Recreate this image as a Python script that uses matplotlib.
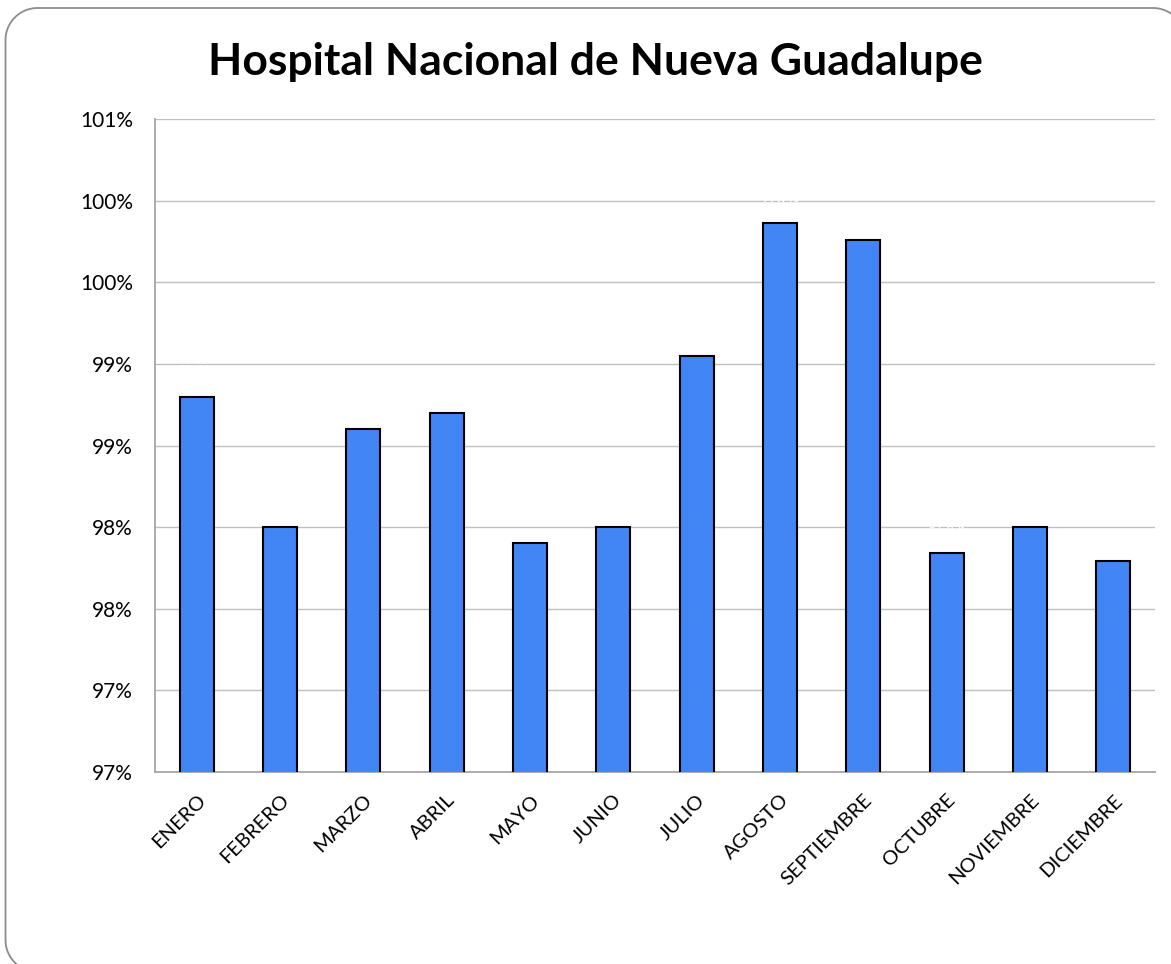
import numpy as np
import matplotlib.pyplot as plt
from matplotlib.path import Path
from matplotlib.patches import PathPatch
from matplotlib.ticker import FuncFormatter, MultipleLocator

meses = ['ENERO', 'FEBRERO', 'MARZO', 'ABRIL', 'MAYO', 'JUNIO', 'JULIO',
         'AGOSTO', 'SEPTIEMBRE', 'OCTUBRE', 'NOVIEMBRE', 'DICIEMBRE']
valores = [98.8, 98.0, 98.6, 98.7, 97.9, 98.0, 99.05, 99.86, 99.76, 97.84, 98.0, 97.79]

titulo = 'Hospital Nacional de Nueva Guadalupe'

plt.rcParams['font.family'] = ['Lato', 'DejaVu Sans']

W, H = 1171, 964
fig = plt.figure(figsize=(W/100, H/100), dpi=100)
fig.patch.set_facecolor('white')

# background axes in pixel units, only for the rounded frame
bg = fig.add_axes([0, 0, 1, 1], zorder=-1)
bg.set_xlim(0, W)
bg.set_ylim(H, 0)
bg.axis('off')

def rounded_rect(x0, y0, x1, y1, r, n=20):
    pts = []
    corners = [(x0 + r, y0 + r, 180, 270), (x1 - r, y0 + r, 270, 360),
               (x1 - r, y1 - r, 0, 90), (x0 + r, y1 - r, 90, 180)]
    for cx, cy, a0, a1 in corners:
        t = np.radians(np.linspace(a0, a1, n))
        pts += list(zip(cx + r*np.cos(t), cy + r*np.sin(t)))
    pts.append(pts[0])
    return Path(pts)

# frame runs off the right and bottom edges like the original
bg.add_patch(PathPatch(rounded_rect(5.5, 8, 1185, 972, 32), fill=False,
                       edgecolor='#8c8c8c', lw=1.3))

ax = fig.add_axes([155/W, 1 - 772/H, 1000/W, (772-119)/H])

x = np.arange(len(meses))
ax.bar(x, valores, width=0.41, color='#4285f4', edgecolor='black', lw=1.5, zorder=3)

for xi, v in zip(x, valores):
    ax.annotate(f'{v:.1f}%', (xi, v), xytext=(0, 14), textcoords='offset points',
                ha='center', va='bottom', color='white', fontsize=10, zorder=4)

ax.set_xlim(-0.5, len(meses) - 0.5)
ax.set_ylim(96.5, 100.5)
ax.yaxis.set_major_locator(MultipleLocator(0.5))
ax.yaxis.set_major_formatter(FuncFormatter(lambda v, p: f'{int(np.floor(v + 0.5))}%'))
ax.grid(axis='y', color='#bfbfbf', lw=1, zorder=0)

ax.set_xticks(x)
ax.set_xticklabels(meses, rotation=45, ha='right', va='top', rotation_mode='anchor', fontsize=14.5)
ax.tick_params(axis='x', length=0, pad=14)
ax.tick_params(axis='y', length=0, pad=16, labelsize=15)

for s in ['left', 'bottom']:
    ax.spines[s].set_color('#a6a6a6')
    ax.spines[s].set_linewidth(1.3)
for s in ['top', 'right']:
    ax.spines[s].set_visible(False)

fig.text(595/W, 1 - 62/H, titulo, ha='center', va='center', fontsize=32, fontweight='bold')

fig.savefig('out.png', dpi=100)
